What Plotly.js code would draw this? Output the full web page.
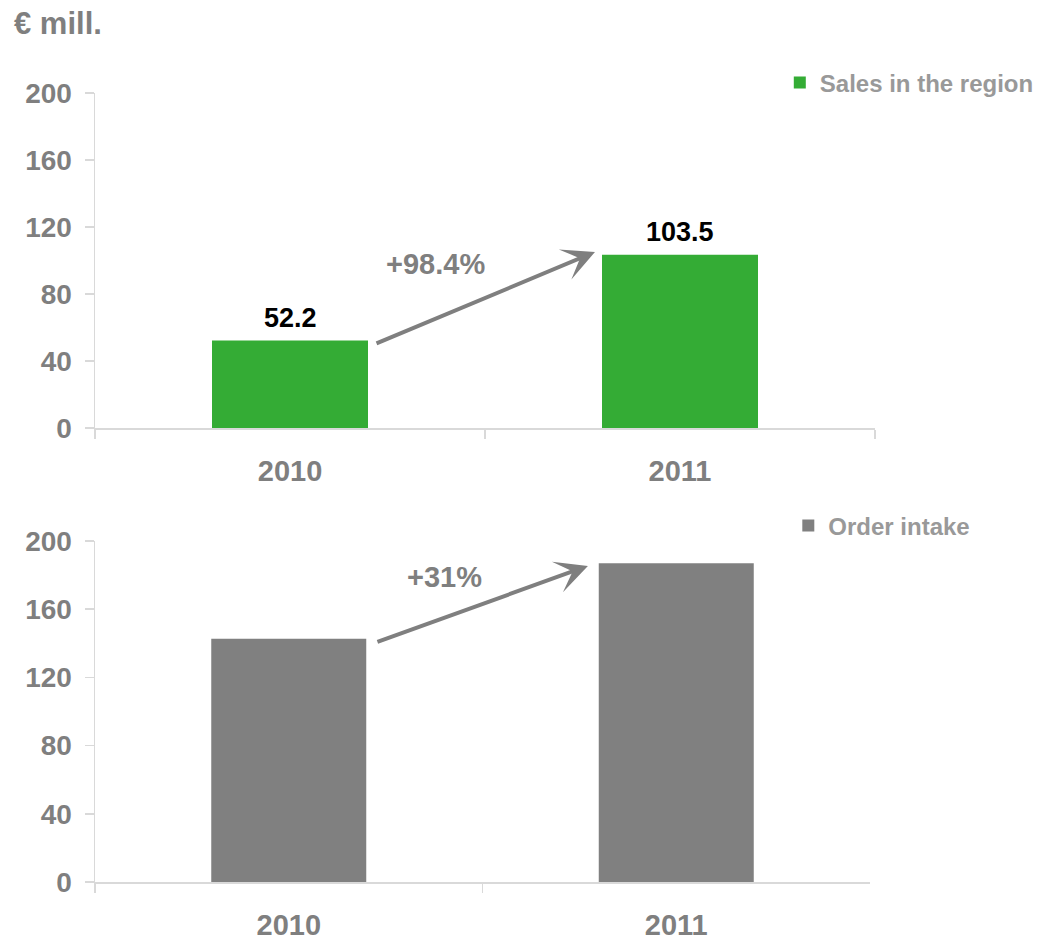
<!DOCTYPE html>
<html>
<head>
<meta charset="utf-8">
<script src="https://cdn.plot.ly/plotly-3.0.1.min.js"></script>
<style>html,body{margin:0;padding:0;background:#fff;}#chart{width:1039px;height:941px;}</style>
</head>
<body>
<div id="chart"></div>
<script>
const years = ['2010', '2011'];
const salesRegion = [52.2, 103.5];
const orderIntake = [142.7, 187.0];
const salesLabels = ['52.2', '103.5'];
const salesGrowth = '+98.4%';
const orderGrowth = '+31%';
const yTicks = [0, 40, 80, 120, 160, 200];
const unitTitle = '€ mill.';

const FONT = 'Liberation Sans, Arial, sans-serif';
const GREY = '#7f7f7f';
const AXIS = '#d9d9d9';

const traces = [
  {type: 'bar', x: years, y: salesRegion, name: 'Sales in the region',
   marker: {color: '#34ac35'}, xaxis: 'x', yaxis: 'y', legend: 'legend', hoverinfo: 'skip'},
  {type: 'bar', x: years, y: orderIntake, name: 'Order intake',
   marker: {color: '#808080'}, xaxis: 'x2', yaxis: 'y2', legend: 'legend2', hoverinfo: 'skip'}
];

function xAxis(anchor, domain) {
  return {anchor: anchor, type: 'category', range: [-0.5, 1.5], domain: domain,
    showline: true, linecolor: AXIS, linewidth: 1.5, ticks: 'outside', tickson: 'boundaries',
    ticklen: 9, tickcolor: AXIS, tickwidth: 1.5, showgrid: false, zeroline: false,
    ticklabelstandoff: 17,
    tickfont: {family: FONT, size: 29, color: GREY, weight: 'bold'}};
}
function yAxis(anchor, domain) {
  return {anchor: anchor, domain: domain, range: [0, 200], tickvals: yTicks,
    showline: true, linecolor: AXIS, linewidth: 1.5, ticks: 'outside', ticklen: 9,
    tickcolor: AXIS, tickwidth: 1.5, showgrid: false, zeroline: false,
    ticklabelstandoff: 7,
    tickfont: {family: FONT, size: 28, color: GREY, weight: 'bold'}};
}

const annotations = [];
years.forEach((yr, i) => {
  annotations.push({xref: 'x', yref: 'y', x: i, y: salesRegion[i], text: salesLabels[i],
    showarrow: false, yanchor: 'bottom', yshift: 6,
    font: {family: FONT, size: 27, color: '#000000', weight: 'bold'}});
});
// growth arrows
annotations.push({xref: 'x', yref: 'y', axref: 'x', ayref: 'y',
  x: 0.782, y: 105.1, ax: 0.218, ay: 50.1, text: '', showarrow: true,
  arrowhead: 3, arrowsize: 1.35, arrowwidth: 4, arrowcolor: GREY});
annotations.push({xref: 'x', yref: 'y', x: 0.374, y: 97.8, text: salesGrowth, showarrow: false,
  font: {family: FONT, size: 29, color: GREY, weight: 'bold'}});
annotations.push({xref: 'x2', yref: 'y2', axref: 'x2', ayref: 'y2',
  x: 0.772, y: 185.4, ax: 0.225, ay: 140.5, text: '', showarrow: true,
  arrowhead: 3, arrowsize: 1.35, arrowwidth: 4, arrowcolor: GREY});
annotations.push({xref: 'x2', yref: 'y2', x: 0.403, y: 179, text: orderGrowth, showarrow: false,
  font: {family: FONT, size: 29, color: GREY, weight: 'bold'}});

const legendBase = {xanchor: 'right', yanchor: 'middle', bgcolor: 'rgba(0,0,0,0)',
  font: {family: FONT, size: 24, color: '#999999', weight: 'bold'}, itemclick: false};

const layout = {
  width: 1039, height: 941,
  margin: {l: 95, r: 164, t: 93, b: 59, autoexpand: false},
  paper_bgcolor: '#fff', plot_bgcolor: '#fff',
  bargap: 0.6,
  showlegend: true,
  title: {text: unitTitle, xref: 'container', yref: 'container', x: 14 / 1039, xanchor: 'left',
    y: 1 - 23 / 941, yanchor: 'middle', font: {family: FONT, size: 31, color: GREY, weight: 'bold'}},
  xaxis: xAxis('y', [0, 1]),
  yaxis: yAxis('x', [0.5754, 1]),
  xaxis2: xAxis('y2', [0, 0.9936]),
  yaxis2: yAxis('x2', [0, 0.4322]),
  legend: Object.assign({}, legendBase, {x: 1.21, y: 1.0127}),
  legend2: Object.assign({}, legendBase, {x: 1.1286, y: 0.4512}),
  annotations: annotations
};

Plotly.newPlot('chart', traces, layout, {staticPlot: true, displayModeBar: false});
</script>
</body>
</html>
